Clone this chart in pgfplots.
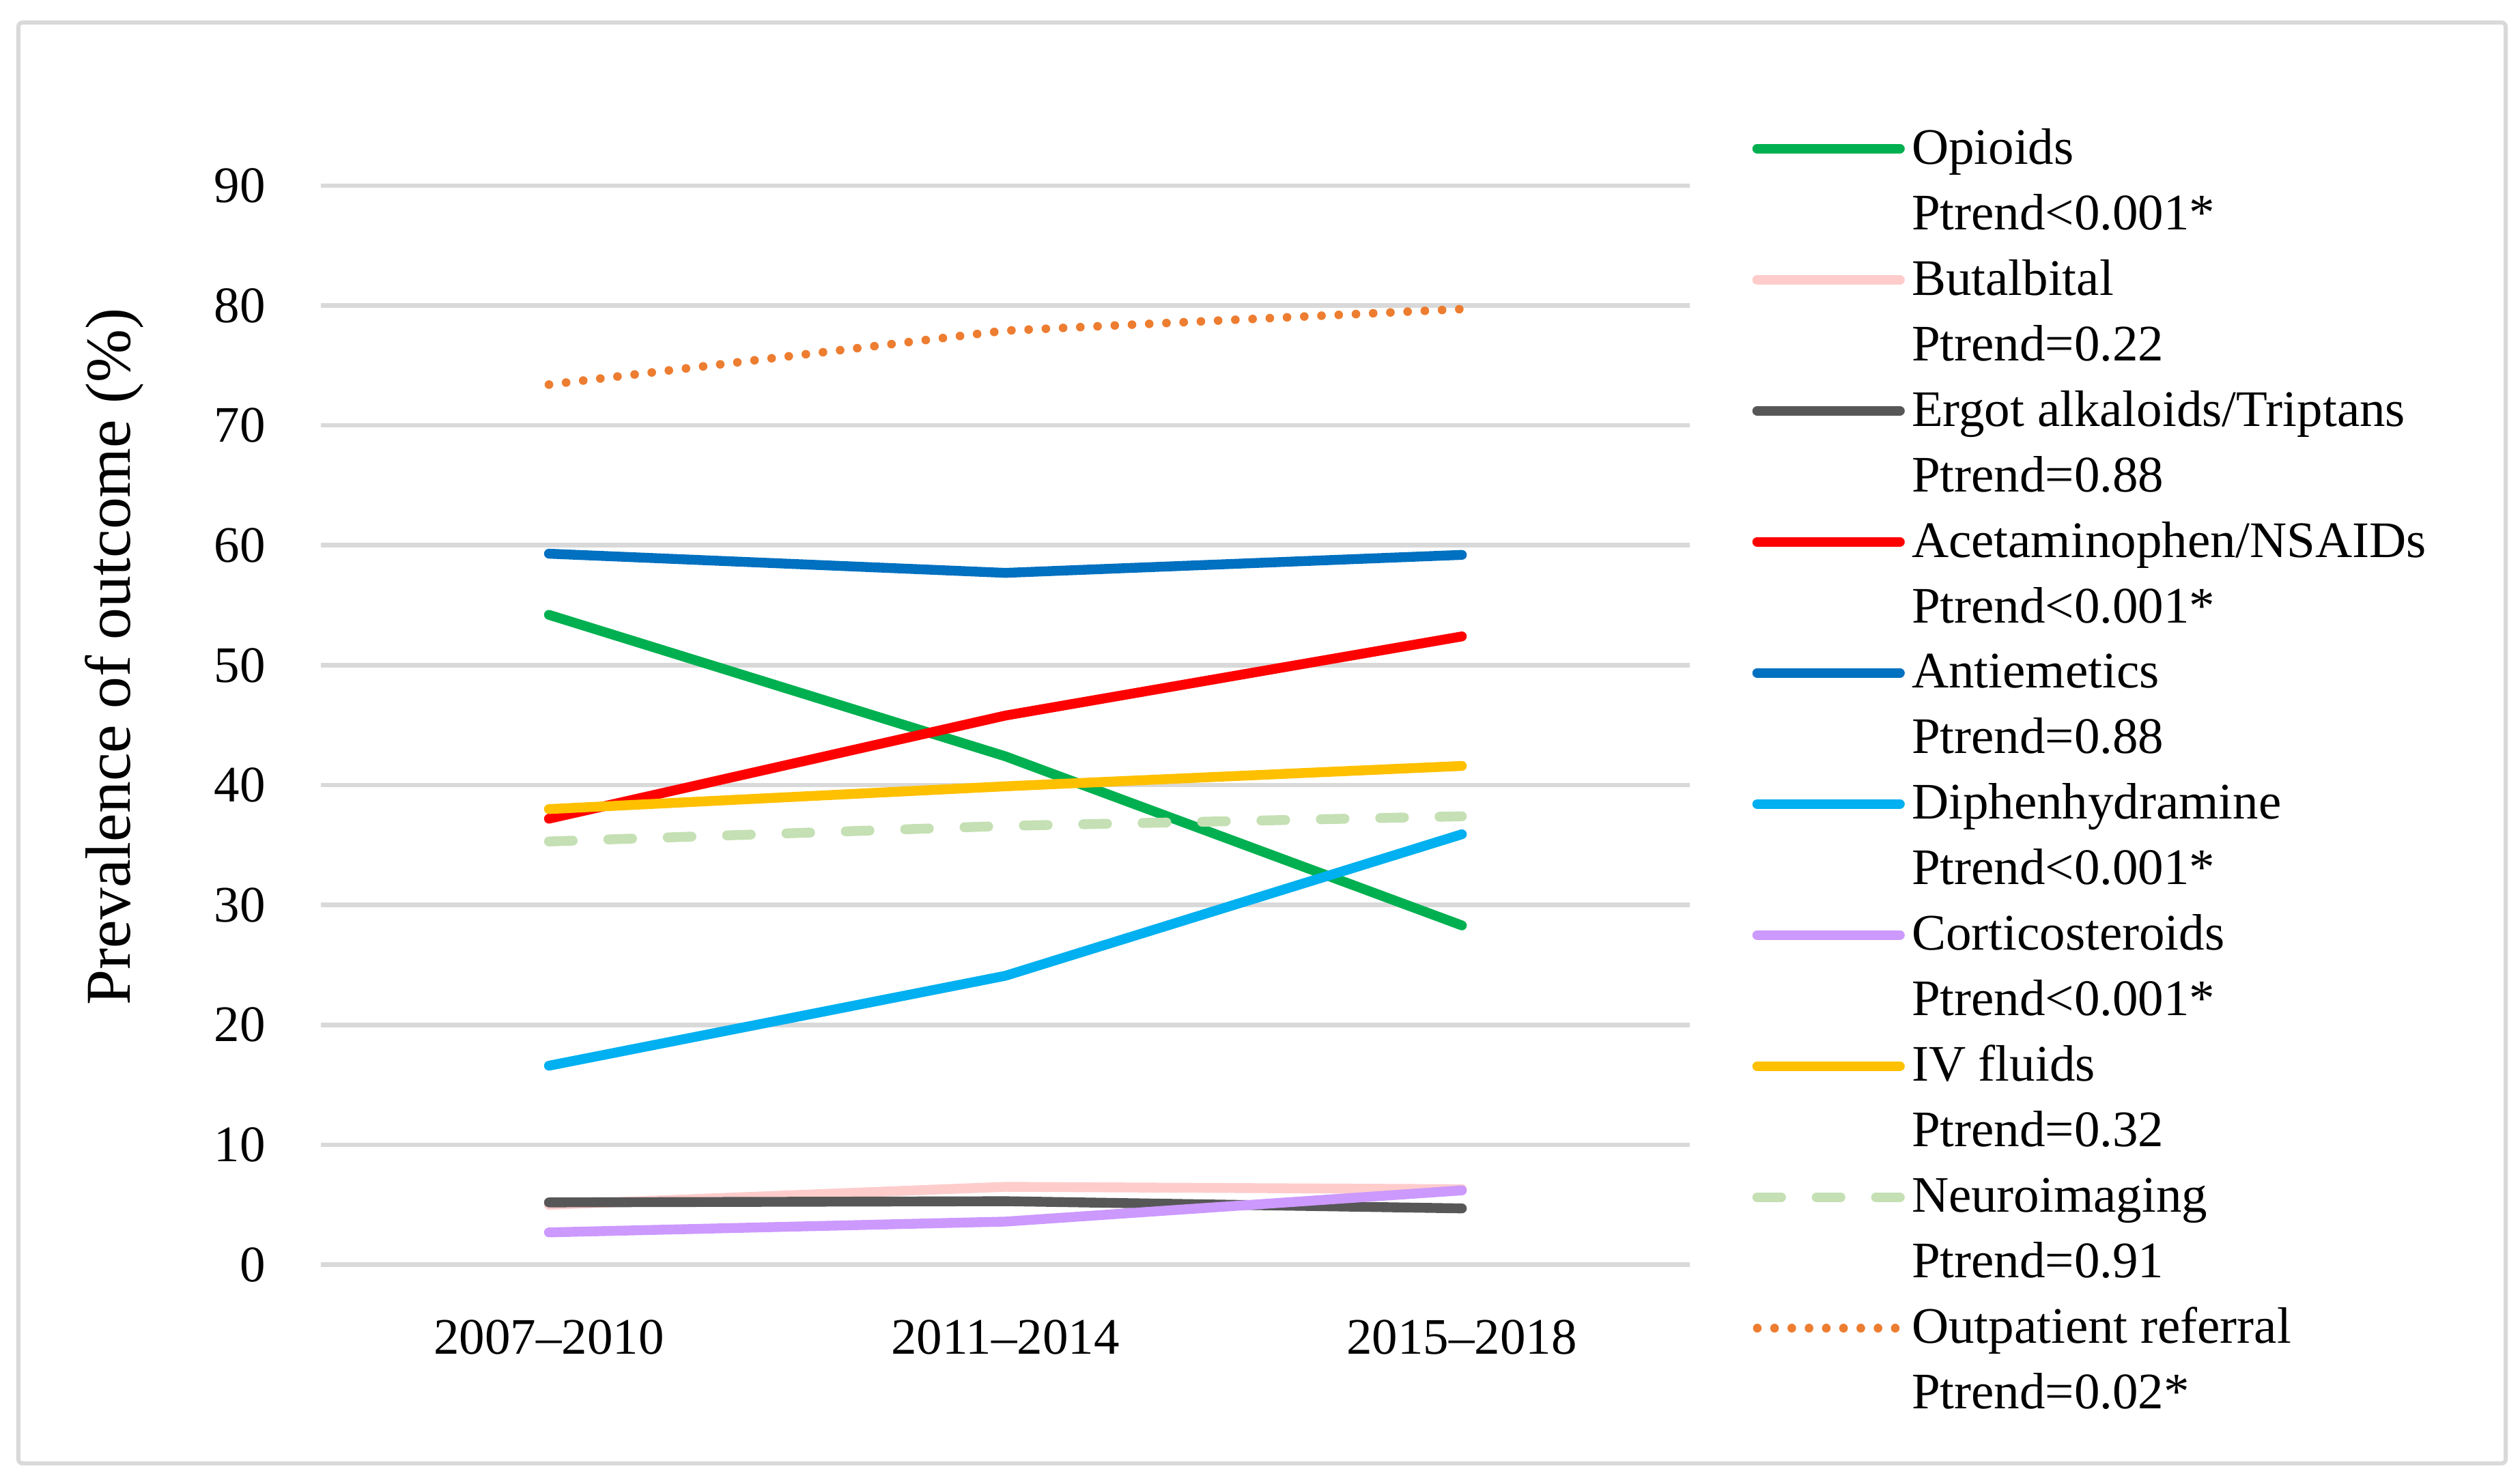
\documentclass[border=0pt]{standalone}
\usepackage{fontspec}
\setmainfont{Liberation Serif}
\usepackage{pgfplots}
\pgfplotsset{compat=1.18}
\definecolor{gridgray}{HTML}{D9D9D9}
\definecolor{cOpi}{HTML}{00B050}
\definecolor{cBut}{HTML}{FFCCCC}
\definecolor{cErg}{HTML}{575757}
\definecolor{cAce}{HTML}{FF0000}
\definecolor{cAnt}{HTML}{0070C0}
\definecolor{cDip}{HTML}{00B0F0}
\definecolor{cCor}{HTML}{CC99FF}
\definecolor{cIV}{HTML}{FFC000}
\definecolor{cNeu}{HTML}{C5E0B4}
\definecolor{cOut}{HTML}{ED7D31}
\begin{document}
\begin{tikzpicture}
\useasboundingbox (-78.3pt,-52.5pt) rectangle (536.9pt,308.8pt);
\begin{axis}[
  at={(0pt,0pt)}, anchor=south west,
  scale only axis, width=334.3pt, height=263.5pt,
  xmin=-0.5, xmax=2.5, ymin=0, ymax=90,
  axis line style={draw=none},
  major tick length=0pt,
  tick style={draw=none},
  ymajorgrids,
  grid style={color=gridgray, line width=1.1pt},
  xtick={0,1,2},
  xticklabels={2007–2010, 2011–2014, 2015–2018},
  ytick={0,10,...,90},
  /pgf/number format/assume math mode=true,
  tick label style={font=\fontsize{12.5}{14}\selectfont},
  yticklabel style={inner sep=0pt, anchor=east, xshift=-13.3pt},
  xticklabel style={inner sep=0pt, anchor=north, yshift=-13.3pt},
  every axis y label/.style={at={(axis description cs:0,0.5636)}, xshift=-46.6pt, rotate=90, anchor=base, inner sep=0pt, font=\fontsize{15.6}{18}\selectfont},
  ylabel={Prevalence of outcome (\%)},
  clip=false,
  every axis plot/.append style={line width=2.4pt, line join=round, line cap=round},
  legend image code/.code={\draw[#1] (0pt,0pt) -- (34.8pt,0pt);},
  legend style={draw=none, fill=none, inner sep=0pt, outer sep=0pt, row sep=0pt, column sep=0pt,
    font=\fontsize{12.5}{16}\selectfont,
    nodes={inner sep=1.7pt, text height=10pt, text depth=2.6pt},
    cells={anchor=west},
    at={(1,1)}, anchor=north west, xshift=15.2pt, yshift=17pt},
]
\addplot[cOpi] coordinates {(0,54.2) (1,42.4) (2,28.3)};
\addlegendentry{Opioids}
\addlegendimage{empty legend}\addlegendentry{Ptrend<0.001*}
\addplot[cBut] coordinates {(0,5.0) (1,6.5) (2,6.3)};
\addlegendentry{Butalbital}
\addlegendimage{empty legend}\addlegendentry{Ptrend=0.22}
\addplot[cErg] coordinates {(0,5.2) (1,5.3) (2,4.7)};
\addlegendentry{Ergot alkaloids/Triptans}
\addlegendimage{empty legend}\addlegendentry{Ptrend=0.88}
\addplot[cAce] coordinates {(0,37.2) (1,45.8) (2,52.4)};
\addlegendentry{Acetaminophen/NSAIDs}
\addlegendimage{empty legend}\addlegendentry{Ptrend<0.001*}
\addplot[cAnt] coordinates {(0,59.3) (1,57.7) (2,59.2)};
\addlegendentry{Antiemetics}
\addlegendimage{empty legend}\addlegendentry{Ptrend=0.88}
\addplot[cDip] coordinates {(0,16.6) (1,24.1) (2,35.9)};
\addlegendentry{Diphenhydramine}
\addlegendimage{empty legend}\addlegendentry{Ptrend<0.001*}
\addplot[cCor] coordinates {(0,2.7) (1,3.6) (2,6.2)};
\addlegendentry{Corticosteroids}
\addlegendimage{empty legend}\addlegendentry{Ptrend<0.001*}
\addplot[cIV] coordinates {(0,38.0) (1,39.9) (2,41.6)};
\addlegendentry{IV fluids}
\addlegendimage{empty legend}\addlegendentry{Ptrend=0.32}
\addplot[cNeu, dash pattern=on 5.8pt off 8.7pt] coordinates {(0,35.3) (1,36.6) (2,37.4)};
\addlegendentry{Neuroimaging}
\addlegendimage{empty legend}\addlegendentry{Ptrend=0.91}
\addplot[cOut, line width=2.1pt, dash pattern=on 0.01pt off 4.2pt] coordinates {(0,73.4) (1,77.9) (2,79.7)};
\addlegendentry{Outpatient referral}
\addlegendimage{empty legend}\addlegendentry{Ptrend=0.02*}
\end{axis}
\draw[color=gridgray, line width=1pt, rounded corners=1pt] (-73.8pt,-48.5pt) rectangle (533.4pt,303.3pt);
\end{tikzpicture}
\end{document}
